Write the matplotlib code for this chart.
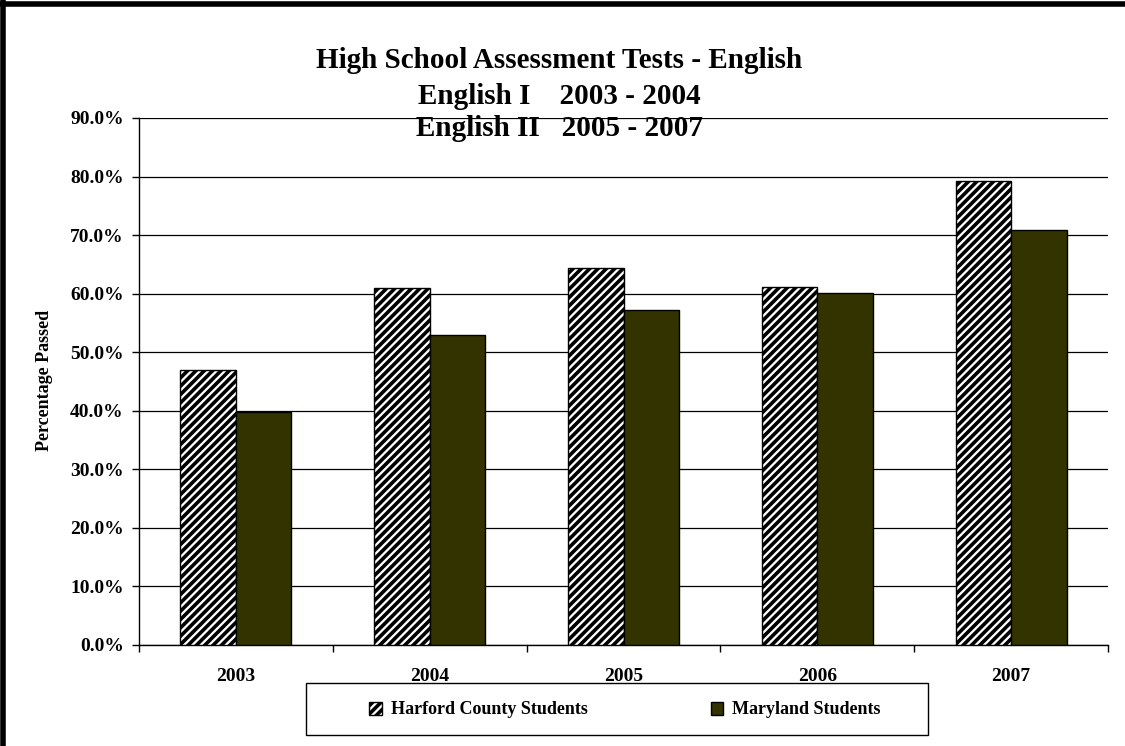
import matplotlib
matplotlib.use("Agg")
import matplotlib.pyplot as plt
from matplotlib.lines import Line2D
from matplotlib.patches import Rectangle
import numpy as np

# Data
years = ["2003", "2004", "2005", "2006", "2007"]
harford = [47.0, 61.0, 64.3, 61.2, 79.3]
maryland = [39.7, 52.9, 57.2, 60.1, 70.8]
yticks = [0, 10, 20, 30, 40, 50, 60, 70, 80, 90]

plt.rcParams['font.family'] = ['Liberation Serif', 'DejaVu Serif']
plt.rcParams['font.weight'] = 'bold'
plt.rcParams['hatch.linewidth'] = 2.6

fig = plt.figure(figsize=(11.25, 7.46), dpi=100)
ax = fig.add_axes([139 / 1125, 1 - 644.7 / 746, (1108 - 139) / 1125, (644.7 - 118) / 746])

x = np.arange(len(years))
w = 0.2866
ax.bar(x - w / 2, harford, w, color='white', edgecolor='black', hatch='////',
       linewidth=1, label='Harford County Students', zorder=3)
ax.bar(x + w / 2, maryland, w, color='#333300', edgecolor='black',
       linewidth=1, label='Maryland Students', zorder=3)

ax.set_xlim(-0.5, len(years) - 0.5)
ax.set_ylim(0, 90)
ax.set_yticks(yticks)
ax.set_yticklabels([f"{v:.1f}%" for v in yticks], fontsize=14, fontweight='bold')
ax.yaxis.grid(True, color='black', linewidth=0.9, zorder=0)
ax.set_axisbelow(True)

# category boundaries as major ticks, labels on minor ticks
ax.set_xticks(np.arange(-0.5, len(years), 1.0))
ax.set_xticklabels([])
ax.set_xticks(x, minor=True)
ax.set_xticklabels(years, minor=True, fontsize=14, fontweight='bold')
ax.tick_params(axis='x', which='major', direction='out', length=5, width=1)
ax.tick_params(axis='x', which='minor', length=0, pad=17)
ax.tick_params(axis='y', direction='out', length=5, width=1, pad=6)

for s in ['top', 'right']:
    ax.spines[s].set_visible(False)
for s in ['left', 'bottom']:
    ax.spines[s].set_linewidth(1)

ax.set_ylabel("Percentage Passed", fontsize=13, fontweight='bold')
ax.yaxis.set_label_coords(53 / 1125, 1 - 380 / 746, transform=fig.transFigure)

fig.text(0.497, 1 - 61 / 746, "High School Assessment Tests - English", ha='center', va='center',
         fontsize=21, fontweight='bold')
fig.text(0.497, 1 - 96 / 746, "English I    2003 - 2004", ha='center', va='center',
         fontsize=21, fontweight='bold')
fig.text(0.497, 1 - 129 / 746, "English II   2005 - 2007", ha='center', va='center',
         fontsize=21, fontweight='bold')

# legend box
fig.add_artist(Rectangle((306 / 1125, 1 - 735 / 746), (928 - 306) / 1125, 52 / 746,
                         transform=fig.transFigure, facecolor='white', edgecolor='black',
                         linewidth=1, zorder=1))
leg = fig.legend(loc='center', bbox_to_anchor=(625 / 1125, 1 - 710 / 746), ncol=2,
                 frameon=False, fontsize=13, handlelength=0.7, handleheight=0.7,
                 handletextpad=0.5, columnspacing=6.8)
leg.set_zorder(2)

# thick figure border (left and top)
fig.add_artist(Line2D([0.003, 0.003], [0, 1], color='black', linewidth=4,
                      transform=fig.transFigure))
fig.add_artist(Line2D([0, 1], [0.994, 0.994], color='black', linewidth=4,
                      transform=fig.transFigure))

fig.savefig("out.png", dpi=100, facecolor='white')
